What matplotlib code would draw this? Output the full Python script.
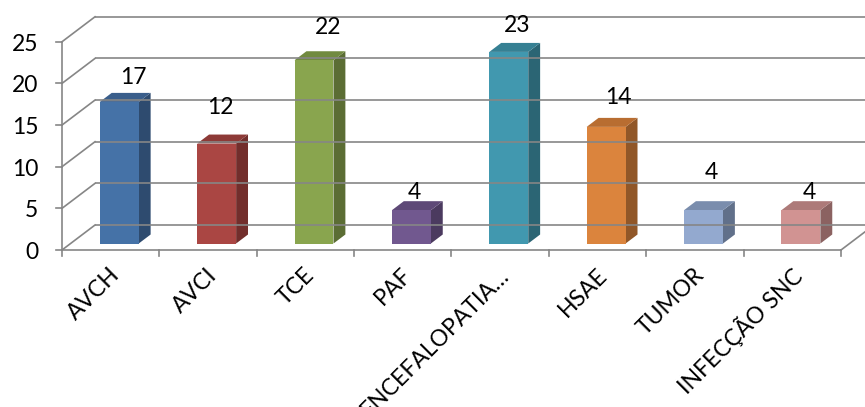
import matplotlib.pyplot as plt
from matplotlib.patches import Polygon

categories = ["AVCH", "AVCI", "TCE", "PAF", "ENCEFALOPATIA…", "HSAE", "TUMOR", "INFECÇÃO SNC"]
values = [17, 12, 22, 4, 23, 14, 4, 4]
y_ticks = [0, 5, 10, 15, 20, 25]

# front / side / top shades for each bar
front_colors = ["#4572A7", "#AA4643", "#89A54E", "#71588F", "#4198AF", "#DB843D", "#93A9CF", "#D19392"]
side_colors = ["#2E4B6F", "#722E2C", "#5B6D34", "#4B3A5F", "#2B6574", "#915728", "#61708A", "#8B6261"]
top_colors = ["#3A5E8B", "#8D3A37", "#718A40", "#5E4977", "#368093", "#B86D31", "#7A8DAD", "#AD7A79"]

# where the value labels sit relative to the bar top
label_dx = [0.23, 0.13, 0.23, 0.12, 0.17, 0.21, 0.17, 0.18]
label_dy = [3.65, 5.15, 4.75, 2.85, 4.0, 4.35, 5.25, 2.95]

plt.rcParams["font.family"] = ["Lato", "DejaVu Sans"]

# depth of the box in data units (x: category units, y: value units)
DX, DY = 0.339, 3.0
grid_col = "#868686"
grid_lw = 1.2

fig = plt.figure(figsize=(8.65, 4.07), dpi=100)
ax = fig.add_axes([0, 0, 1, 1])
ax.set_xlim(-62 / 97.375, (865 - 62) / 97.375)
ax.set_ylim(-157 / 8.33, 250 / 8.33)
ax.axis("off")

n = len(categories)
top = y_ticks[-1]

# back wall gridlines and left wall diagonals
for t in y_ticks:
    ax.plot([DX, n + DX], [t + DY, t + DY], color=grid_col, lw=grid_lw, solid_capstyle="butt")
    ax.plot([0, DX], [t, t + DY], color=grid_col, lw=grid_lw)
    ax.plot([-0.06, 0], [t, t], color=grid_col, lw=grid_lw)
    ax.text(-0.245, t - 0.3, str(t), ha="right", va="center", fontsize=16.5)

# floor right edge, front axis lines
ax.plot([n, n + DX], [0, DY], color=grid_col, lw=grid_lw)
ax.plot([0, 0], [0, top], color=grid_col, lw=grid_lw)
ax.plot([0, n], [0, 0], color=grid_col, lw=grid_lw)
for i in range(n + 1):
    ax.plot([i, i], [0, -0.75], color=grid_col, lw=grid_lw)

# bars
f0, fd = 0.26, 0.36
w = 0.4
for i, v in enumerate(values):
    x0 = i + 0.5 - w / 2 + DX * f0
    x1 = x0 + w
    y0 = DY * f0
    ddx, ddy = DX * fd, DY * fd
    side = [(x1, y0), (x1 + ddx, y0 + ddy), (x1 + ddx, y0 + ddy + v), (x1, y0 + v)]
    topf = [(x0, y0 + v), (x1, y0 + v), (x1 + ddx, y0 + v + ddy), (x0 + ddx, y0 + v + ddy)]
    front = [(x0, y0), (x1, y0), (x1, y0 + v), (x0, y0 + v)]
    ax.add_patch(Polygon(side, closed=True, facecolor=side_colors[i], edgecolor="none"))
    ax.add_patch(Polygon(topf, closed=True, facecolor=top_colors[i], edgecolor="none"))
    ax.add_patch(Polygon(front, closed=True, facecolor=front_colors[i], edgecolor="none"))
    ax.text(i + 0.5 + label_dx[i], v + label_dy[i], str(v), ha="center", va="center",
            fontsize=16.5)

# category labels, rotated 45 degrees
for i, c in enumerate(categories):
    ax.text(i + 0.56, -2.6, c, rotation=45, rotation_mode="anchor",
            ha="right", va="center", fontsize=16.5)

fig.savefig("out.png", dpi=100)
